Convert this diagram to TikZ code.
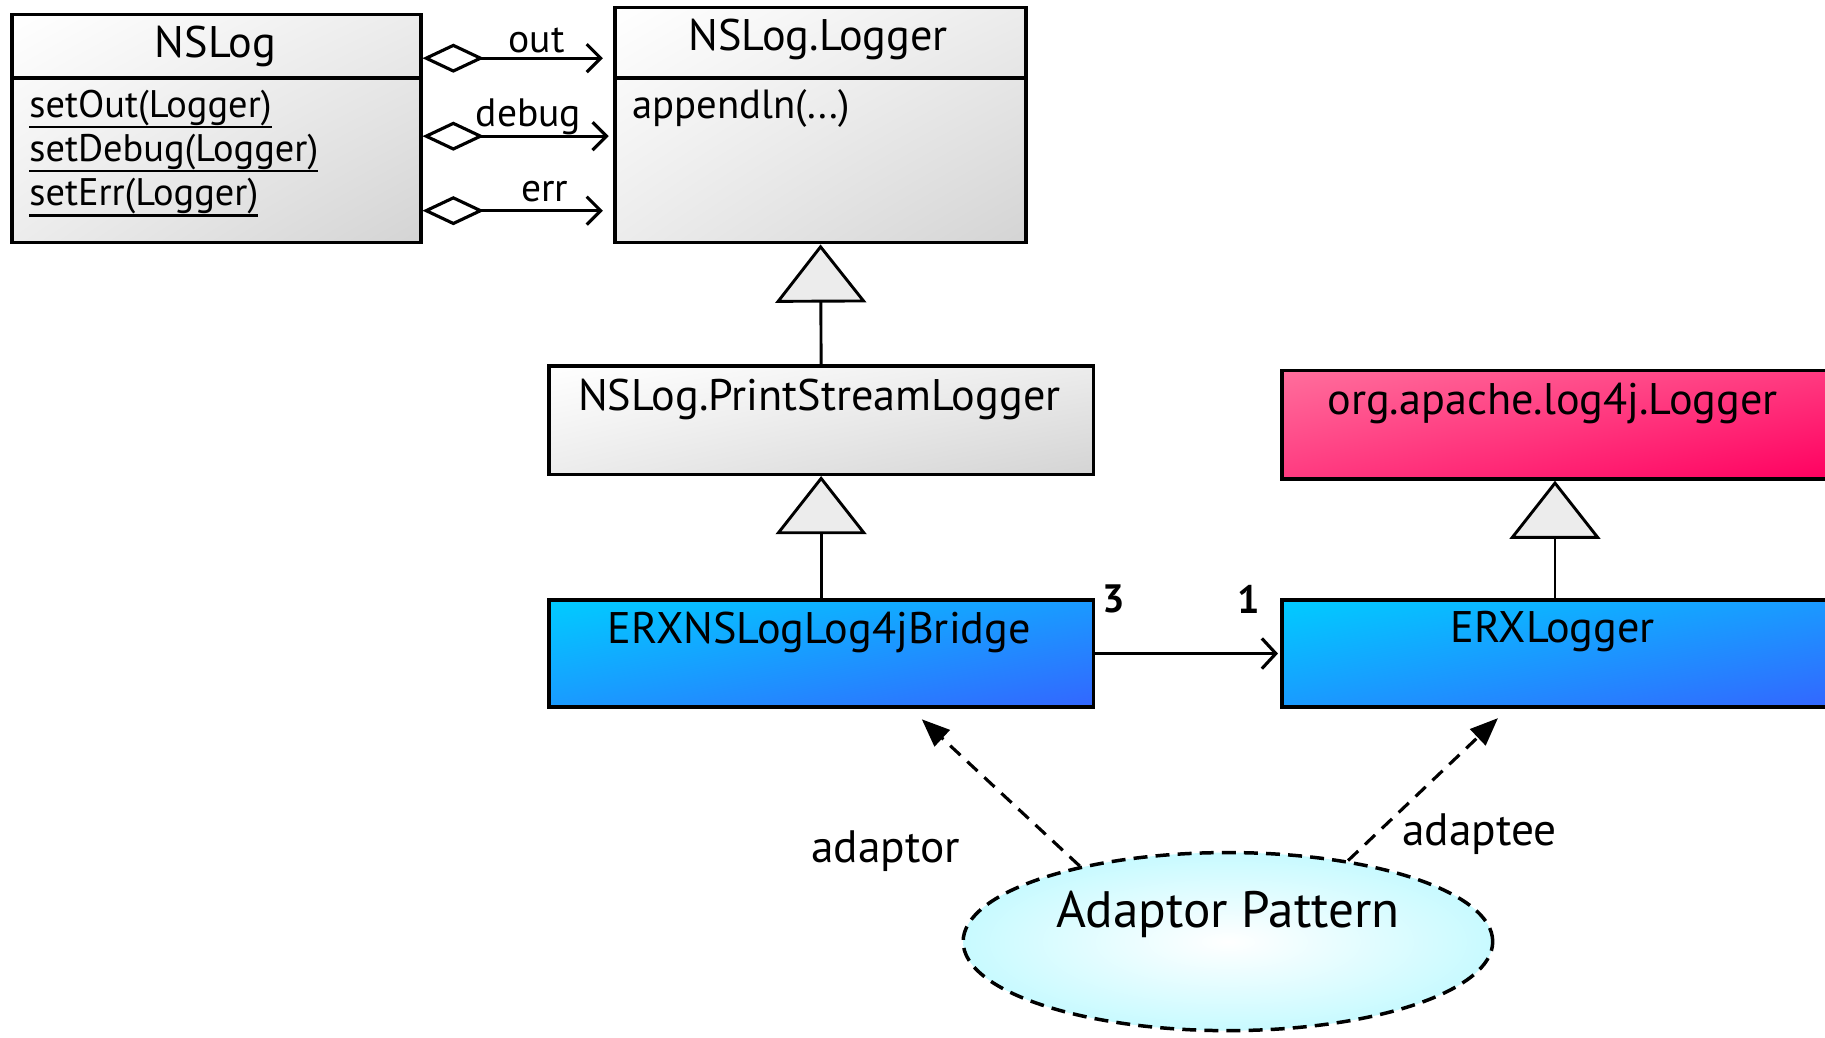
\documentclass[tikz,border=0pt]{standalone}
\usepackage{fontspec}
\setmainfont{PT Sans}
\usetikzlibrary{arrows.meta,shapes.geometric,shadings,calc}

\definecolor{grayMid}{HTML}{ECECEC}
\definecolor{grayEnd}{HTML}{D4D4D4}
\definecolor{blueA}{HTML}{00CCFF}
\definecolor{blueM}{HTML}{1A9AFF}
\definecolor{blueB}{HTML}{3366FF}
\definecolor{pinkA}{HTML}{FF6E9C}
\definecolor{pinkM}{HTML}{FF3A80}
\definecolor{pinkB}{HTML}{FF0060}
\definecolor{cloud}{HTML}{C8FAFF}

% static operation: text with a firm rule beneath it
\newcommand{\staticop}[1]{\setbox0\hbox{#1}\makebox[0pt][l]{\rule[-9.5pt]{\wd0}{2.2pt}}\box0}

\begin{document}
\begin{tikzpicture}[x=1pt,y=-1pt,
  umlbox/.style={draw, line width=3pt, rectangle, anchor=north west, inner sep=0pt},
  grayshade/.style={upper left=white, upper right=grayMid, lower left=grayMid, lower right=grayEnd},
  blueshade/.style={upper left=blueA, upper right=blueM, lower left=blueM, lower right=blueB},
  pinkshade/.style={upper left=pinkA, upper right=pinkM, lower left=pinkM, lower right=pinkB},
  title/.style={inner sep=0pt, font=\fontsize{38}{45}\selectfont},
  ops/.style={inner sep=0pt, align=left, font=\fontsize{33}{38}\selectfont},
  lbl/.style={inner sep=0pt, font=\fontsize{34}{40}\selectfont},
  biglbl/.style={inner sep=0pt, font=\fontsize{39}{46}\selectfont},
  mult/.style={inner sep=0pt, font=\bfseries\fontsize{34}{40}\selectfont},
  agg/.style={line width=2.7pt,
    {Diamond[open, length=53pt, width=25pt]}-{Straight Barb[length=12pt, width=24pt]}},
  gen/.style={line width=2.5pt, -{Triangle[length=50pt, width=78pt, fill=grayMid]}},
  assoc/.style={line width=2.7pt, -{Straight Barb[length=12pt, width=26pt]}, shorten >=2pt},
  dep/.style={line width=2.7pt, dash pattern=on 12pt off 8pt,
    -{Triangle[length=24pt, width=19pt]}},
]
\useasboundingbox (0,0) rectangle (1568,891);

% classes
\node[umlbox, grayshade, minimum width=351pt, minimum height=196pt] (nslog) at (9,11) {};
\node[umlbox, grayshade, minimum width=353pt, minimum height=202pt] (logger) at (527,5) {};
\node[umlbox, grayshade, minimum width=468pt, minimum height=93pt] (psl) at (470,313) {};
\node[umlbox, pinkshade, minimum width=469pt, minimum height=93pt] (l4j) at (1100,317) {};
\node[umlbox, blueshade, minimum width=468pt, minimum height=92pt] (bridge) at (470,514) {};
\node[umlbox, blueshade, minimum width=469pt, minimum height=92pt] (erx) at (1100,514) {};

% compartment separators
\draw[line width=3pt] (nslog.west |- 0,67) -- (nslog.east |- 0,67);
\draw[line width=3pt] (logger.west |- 0,67) -- (logger.east |- 0,67);

% class names and operations
\node[title] (nslogname) at (185,40) {NSLog};
\node[title] (loggername) at (703,34) {NSLog.Logger};
\node[title] (pslname) at (704,343) {NSLog.PrintStreamLogger};
\node[title] (l4jname) at (1334,347) {org.apache.log4j.Logger};
\node[title] (bridgename) at (704,543) {ERXNSLogLog4jBridge};
\node[title] (erxname) at (1334,543) {ERXLogger};
\node[ops, anchor=north west] (nslogops) at (25,77)
  {\staticop{setOut(Logger)}\\ \staticop{setDebug(Logger)}\\ \staticop{setErr(Logger)}};
\node[ops, anchor=west, font=\fontsize{35}{40}\selectfont] (loggerops) at (543,93) {appendln(...)};

% aggregations NSLog -> NSLog.Logger
\draw[agg, shorten >=9pt] (nslog.east |- 0,50) -- (logger.west |- 0,50);
\draw[agg, shorten >=4pt] (nslog.east |- 0,117) -- (logger.west |- 0,117);
\draw[agg, shorten >=9pt] (nslog.east |- 0,181) -- (logger.west |- 0,181);
\node[lbl] (outlbl) at (461,35) {out};
\node[lbl] (debuglbl) at (454,100) {debug};
\node[lbl] (errlbl) at (468,165) {err};

% generalizations
\draw[gen] (psl.north) -- (logger.south);
\draw[gen] (bridge.north) -- (psl.south);
\draw[gen] (erx.north) -- (l4j.south);

% association
\draw[assoc] (bridge.east) -- (erx.west);
\node[mult] (m3) at (957,515) {3};
\node[mult] (m1) at (1073,515) {1};

% pattern collaboration
\node[ellipse, draw, line width=3pt, dash pattern=on 12pt off 7pt,
      inner color=white, outer color=cloud,
      minimum width=455pt, minimum height=153pt] (ap) at (1055,809) {};
\node[inner sep=0pt, font=\fontsize{44}{52}\selectfont] (aptext) at (1055,786) {Adaptor Pattern};
\coordinate (adaptorend) at (792,618);
\coordinate (adapteeend) at (1287,617);
\draw[dep] (ap.153) -- (adaptorend);
\draw[dep] (ap.34) -- (adapteeend);
\node[biglbl] (adaptorlbl) at (761,731) {adaptor};
\node[biglbl] (adapteelbl) at (1271,717) {adaptee};
\end{tikzpicture}
\end{document}
